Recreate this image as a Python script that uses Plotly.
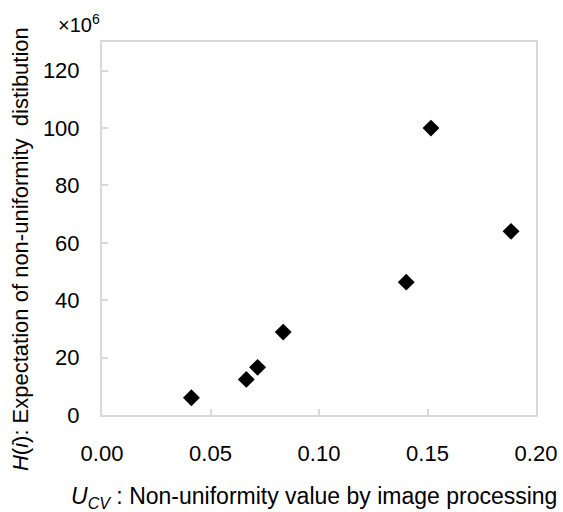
import plotly.graph_objects as go

# Data
u_cv = [0.0412, 0.0665, 0.0717, 0.0835, 0.1402, 0.1516, 0.1885]
h_expect = [6.0, 12.4, 16.6, 28.9, 46.3, 100.0, 64.0]  # x 10^6

x_ticks = [0.00, 0.05, 0.10, 0.15, 0.20]
x_tick_labels = ["0.00", "0.05", "0.10", "0.15", "0.20"]
y_ticks = [0, 20, 40, 60, 80, 100, 120]
y_tick_labels = ["0", "20", "40", "60", "80", "100", "120"]

FONT = "Liberation Sans, Arial, sans-serif"
GRAY = "#d9d9d9"

fig = go.Figure()
fig.add_trace(go.Scatter(
    x=u_cv, y=h_expect, mode="markers",
    marker=dict(symbol="diamond", size=13, color="black"),
    showlegend=False,
))

fig.update_layout(
    width=563, height=512,
    margin=dict(l=102, r=27, t=42, b=97, autoexpand=False),
    paper_bgcolor="white", plot_bgcolor="white",
    font=dict(family=FONT, size=22, color="black"),
)

fig.update_xaxes(
    range=[0, 0.2], tickvals=x_ticks, ticktext=x_tick_labels,
    showgrid=False, zeroline=False, automargin=False,
    showline=True, linecolor=GRAY, linewidth=2, mirror=True,
    ticks="inside", ticklen=6, tickwidth=2, tickcolor=GRAY,
    tickfont=dict(family=FONT, size=22, color="black"),
    ticklabelstandoff=18,
)
fig.update_yaxes(
    range=[0, 130], tickvals=y_ticks, ticktext=y_tick_labels,
    showgrid=False, zeroline=False, automargin=False,
    showline=True, linecolor=GRAY, linewidth=2, mirror=True,
    ticks="inside", ticklen=6, tickwidth=2, tickcolor=GRAY,
    tickfont=dict(family=FONT, size=22, color="black"),
    ticklabelstandoff=16,
)

fig.add_annotation(
    text="<i>U</i><sub><i>CV</i></sub> : Non-uniformity value by image processing",
    xref="paper", yref="paper", x=0.488, y=-0.22,
    xanchor="center", yanchor="middle", showarrow=False,
    font=dict(family=FONT, size=23, color="black"),
)
fig.add_annotation(
    text="<i>H</i>(<i>i</i>): Expectation of non-uniformity  distibution",
    xref="paper", yref="paper", x=-0.188, y=0.446,
    xanchor="center", yanchor="middle", showarrow=False, textangle=-90,
    font=dict(family=FONT, size=22, color="black"),
)
fig.add_annotation(
    text="×10<sup>6</sup>",
    xref="paper", yref="paper", x=-0.052, y=1.05,
    xanchor="center", yanchor="middle", showarrow=False,
    font=dict(family=FONT, size=20, color="black"),
)

fig.write_html(
    "out.html",
    config={"displayModeBar": False},
    post_script="document.body.style.margin='0';document.body.style.padding='0';",
)
